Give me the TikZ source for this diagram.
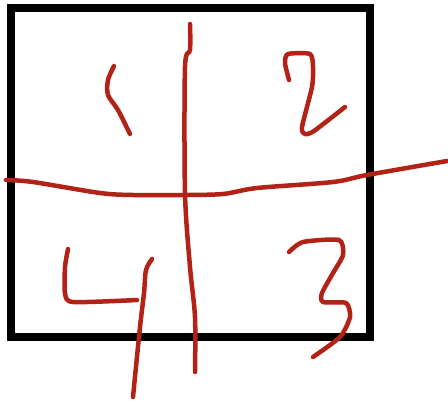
\documentclass[tikz,border=0pt]{standalone}
\usepackage{tikz}
\definecolor{penred}{RGB}{178,34,22}
\definecolor{penblack}{RGB}{0,0,0}

\begin{document}
\begin{tikzpicture}[x=1pt,y=-1pt,line cap=round,line join=round,
    frame/.style={penblack,line width=8pt,line cap=butt,line join=miter},
    ink/.style={penred,line width=4.5pt}]
  \useasboundingbox (0,0) rectangle (448,402);
  % box
  \draw[frame] (11,8) rectangle (369.5,337);
  % cross
  \draw[ink] plot[smooth,tension=.5] coordinates {(190,24) (190,50) (185,67) (185,193)
    (190,267) (195,317) (195,372)};
  \draw[ink] plot[smooth,tension=.5] coordinates {(6,180) (33,182) (100,193) (133,195)
    (183,195) (223,194) (257,188) (333,182) (367,175) (447,161)};
  % handwritten 1
  \draw[ink] plot[smooth,tension=.5] coordinates {(114,66) (108,80) (108,95) (118,110) (130,134)};
  % handwritten 2
  \draw[ink] plot[smooth,tension=.4] coordinates {(289,80) (285,63) (288,54) (310,54)
    (313,67) (312,87) (302,127) (305,134) (314,131) (345,107)};
  % handwritten 3
  \draw[ink] plot[smooth,tension=.4] coordinates {(289,252) (303,242) (339,240) (343,255)
    (333,273) (322,293) (323,302) (346,303) (350,317) (340,337) (313,357)};
  % handwritten 4
  \draw[ink] plot[smooth,tension=.4] coordinates {(68,249) (65,267) (65,293) (73,302) (137,300)};
  \draw[ink] plot[smooth,tension=.5] coordinates {(152,259) (146,270) (144,293) (140,327) (133,397)};
\end{tikzpicture}
\end{document}
